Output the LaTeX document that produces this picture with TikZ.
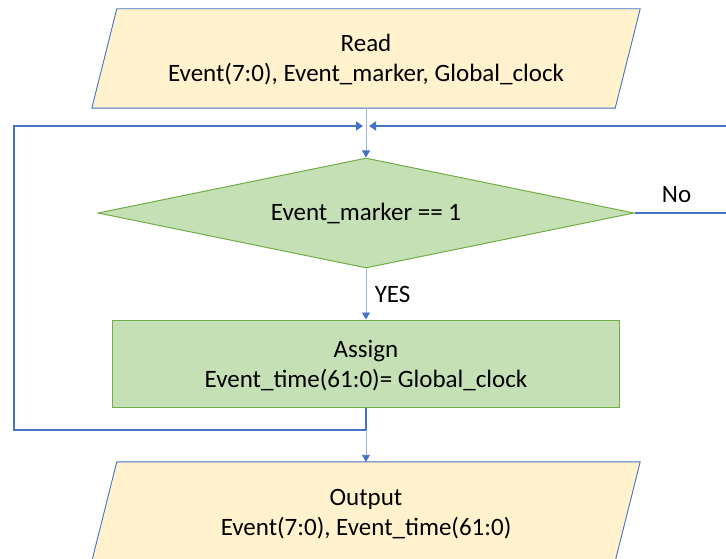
\documentclass[tikz,border=0pt]{standalone}
\usepackage{fontspec}
\setmainfont{Carlito}
\usetikzlibrary{shapes.geometric,arrows.meta,calc}
\definecolor{ioFill}{HTML}{FFF2CC}
\definecolor{lineBlue}{HTML}{4472C4}
\definecolor{thinBlue}{HTML}{9DB5E2}
\definecolor{stepFill}{HTML}{C5E0B4}
\definecolor{stepLine}{HTML}{70AD47}
\tikzset{
  txt/.style={font=\fontsize{25}{30}\selectfont, align=center, text=black},
  iobox/.style={txt, minimum width=523pt, minimum height=99pt, inner sep=0pt},
  ioshape/.style={fill=ioFill, draw=lineBlue, line width=0.9pt},
  decision/.style={txt, diamond, aspect=4.87, minimum width=536pt, minimum height=110pt, inner sep=0pt,
    fill=stepFill, draw=stepLine, line width=1pt},
  process/.style={txt, rectangle, minimum width=507pt, minimum height=87pt, inner sep=0pt,
    fill=stepFill, draw=stepLine, line width=1pt},
  feed/.style={draw=thinBlue, line width=0.9pt, -{Triangle[length=7pt,width=8pt,color=lineBlue]}},
  loopline/.style={draw=lineBlue, line width=1.6pt},
  looparrow/.style={loopline, -{Triangle[length=7pt,width=9pt]}},
  lbl/.style={font=\fontsize{25}{28}\selectfont, text=black}
}
\begin{document}
\begin{tikzpicture}[x=1pt, y=-1pt]
\useasboundingbox (0,0) rectangle (726,559);

% input / output blocks (slanted)
\node[iobox] (read) at (366,58.5) {};
\fill[ioshape] ($(read.north west)+(12.5,0)$) -- ($(read.north east)+(12.5,0)$)
  -- ($(read.south east)+(-12.5,0)$) -- ($(read.south west)+(-12.5,0)$) -- cycle;
\node[txt] at ($(read)+(0,1)$) {Read\\Event(7:0), Event\_marker, Global\_clock};

\node[iobox] (out) at (366,511.5) {};
\fill[ioshape] ($(out.north west)+(12.5,0)$) -- ($(out.north east)+(12.5,0)$)
  -- ($(out.south east)+(-12.5,0)$) -- ($(out.south west)+(-12.5,0)$) -- cycle;
\node[txt] at ($(out)+(0,3)$) {Output\\Event(7:0), Event\_time(61:0)};

% decision and assignment
\node[decision] (cond) at (366,213) {Event\_marker == 1};
\node[process] (assign) at (366,363.5) {};
\node[txt] at ($(assign)+(0,2)$) {Assign\\Event\_time(61:0)= Global\_clock};

% loop points
\coordinate (join) at (366,126);
\coordinate (back) at (366,430);
\coordinate (leftx) at (14,430);
\coordinate (rightx) at (730,213);

% straight feeds
\draw[feed] (read.south) -- (cond.north);
\draw[feed] (cond.south) -- node[lbl, right=5pt, pos=0.5] {YES} (assign.north);
\draw[feed] (back) -- (out.north);

% loop back from the assignment
\draw[loopline] (assign.south) -- (back);
\draw[looparrow] (back) -- (leftx) |- ($(join)+(-3,0)$);

% loop back on the "No" branch
\draw[looparrow] (cond.east) -- node[lbl, above=6pt, pos=0.44] {No} (rightx) |- ($(join)+(3,0)$);
\end{tikzpicture}
\end{document}
